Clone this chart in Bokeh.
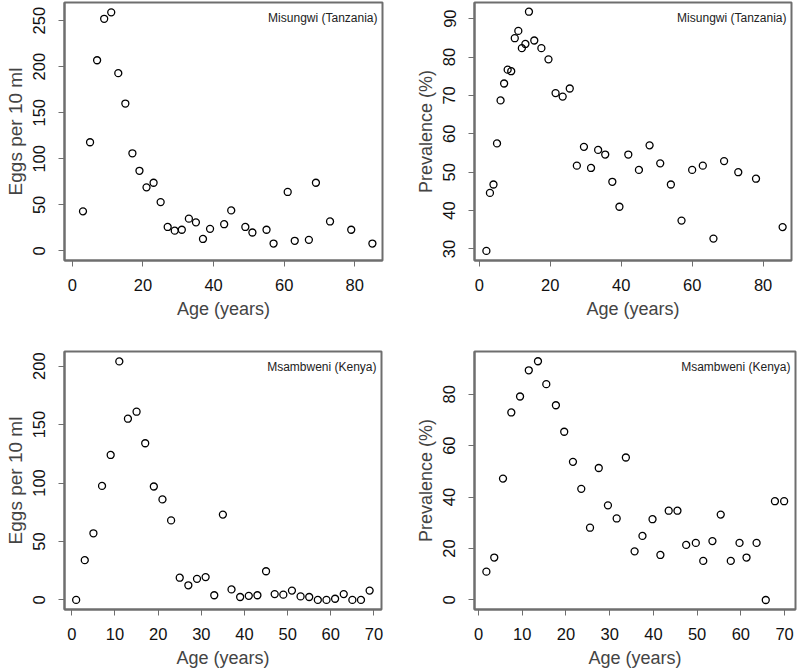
from bokeh.plotting import figure
from bokeh.layouts import column, row
from bokeh.models import Range1d, FixedTicker, Label
from bokeh.embed import file_html
from bokeh.resources import INLINE

# ---------------- data ----------------
# Misungwi (Tanzania): eggs per 10 ml by age
mis_egg_age = [3, 5, 7, 9, 11, 13, 15, 17, 19, 21, 23, 25, 27, 29, 31, 33, 35, 37, 39,
               43, 45, 49, 51, 55, 57, 61, 63, 67, 69, 73, 79, 85]
mis_egg = [43, 118, 207, 252, 259, 193, 160, 106, 87, 69, 74, 53, 26, 22, 23, 35, 31, 13, 24,
           29, 44, 26, 20, 23, 8, 64, 11, 12, 74, 32, 23, 8]

# Misungwi (Tanzania): prevalence by age
mis_prev_age = [2, 3, 4, 5, 6, 7, 8, 9, 10, 11, 12, 13, 14, 15.5, 17.5, 19.5, 21.5, 23.5, 25.5,
                27.5, 29.5, 31.5, 33.5, 35.5, 37.5, 39.5, 42, 45, 48, 51, 54, 57, 60, 63, 66,
                69, 73, 78, 85.5]
mis_prev = [29.5, 44.6, 46.8, 57.5, 68.7, 73.1, 76.7, 76.3, 84.9, 86.8, 82.3, 83.4, 91.8, 84.3,
            82.3, 79.4, 70.6, 69.7, 71.8, 51.7, 56.6, 51.1, 55.8, 54.6, 47.5, 41.0, 54.6, 50.6,
            57.0, 52.3, 46.8, 37.4, 50.6, 51.7, 32.7, 52.9, 50.0, 48.3, 35.7]

# Msambweni (Kenya): eggs per 10 ml by age
msa_egg_age = [1, 3, 5, 7, 9, 11, 13, 15, 17, 19, 21, 23, 25, 27, 29, 31, 33, 35, 37, 39, 41,
               43, 45, 47, 49, 51, 53, 55, 57, 59, 61, 63, 65, 67, 69]
msa_egg = [0, 34, 57, 97.5, 124, 204, 155, 161, 134, 97, 86, 68, 19, 12.5, 18, 19.5, 4, 73, 9,
           2.5, 3.5, 4, 24.5, 5, 4.5, 8, 3, 2.5, 0, 0, 1, 5, 0, 0, 8]

# Msambweni (Kenya): prevalence by age
msa_prev_age = [1.8, 3.6, 5.6, 7.5, 9.5, 11.5, 13.6, 15.5, 17.7, 19.6, 21.6, 23.5, 25.5, 27.5,
                29.6, 31.6, 33.7, 35.7, 37.5, 39.8, 41.6, 43.5, 45.5, 47.5, 49.7, 51.4, 53.5,
                55.4, 57.7, 59.7, 61.3, 63.6, 65.7, 67.8, 69.9]
msa_prev = [11.0, 16.5, 47.2, 72.9, 79.1, 89.3, 92.8, 83.9, 75.7, 65.4, 53.7, 43.2, 28.1, 51.3,
            36.8, 31.7, 55.4, 18.9, 24.9, 31.4, 17.5, 34.7, 34.7, 21.4, 22.2, 15.2, 22.9, 33.2,
            15.2, 22.2, 16.5, 22.2, 0.0, 38.4, 38.4]

# tick labels
mis_x_ticks = [0, 20, 40, 60, 80]
mis_egg_y_ticks = [0, 50, 100, 150, 200, 250]
mis_prev_y_ticks = [30, 40, 50, 60, 70, 80, 90]
msa_x_ticks = [0, 10, 20, 30, 40, 50, 60, 70]
msa_egg_y_ticks = [0, 50, 100, 150, 200]
msa_prev_y_ticks = [0, 20, 40, 60, 80]

x_title = "Age (years)"
egg_title = "Eggs per 10 ml"
prev_title = "Prevalence (%)"
site_mis = "Misungwi (Tanzania)"
site_msa = "Msambweni (Kenya)"

FONT = "Liberation Sans"
BOX = "#6e6e6e"


def panel(xs, ys, xr, yr, xt, yt, ylab, site, w, h, bl, br, bt, bb, ylab_size="18px"):
    p = figure(width=w, height=h, x_range=Range1d(*xr), y_range=Range1d(*yr),
               output_backend="svg", toolbar_location=None,
               min_border_left=bl, min_border_right=br, min_border_top=bt, min_border_bottom=bb)
    p.outline_line_color = BOX
    p.outline_line_width = 2
    p.xgrid.grid_line_color = None
    p.ygrid.grid_line_color = None

    p.scatter(xs, ys, marker="circle", size=7, fill_color=None, line_color="black", line_width=1.3)

    for ax, ticks in ((p.xaxis[0], xt), (p.yaxis[0], yt)):
        ax.ticker = FixedTicker(ticks=ticks)
        ax.axis_line_color = BOX
        ax.axis_line_width = 2
        ax.major_tick_line_color = BOX
        ax.major_tick_line_width = 1
        ax.major_tick_in = 0
        ax.major_tick_out = 6
        ax.minor_tick_line_color = None
        ax.major_label_text_font = FONT
        ax.major_label_text_font_size = "16.5px"
        ax.major_label_text_color = "#111111"
        ax.axis_label_text_font = FONT
        ax.axis_label_text_font_style = "normal"

    p.xaxis[0].axis_label = x_title
    p.xaxis[0].axis_label_text_font_size = "18px"
    p.xaxis[0].major_label_standoff = 12

    p.yaxis[0].axis_label = ylab
    p.yaxis[0].axis_label_text_font_size = ylab_size
    p.yaxis[0].major_label_orientation = "parallel"
    p.yaxis[0].major_label_standoff = 13

    p.add_layout(Label(x=xr[1], y=yr[1], x_offset=-5, y_offset=-15, text=site,
                       text_align="right", text_baseline="middle", text_font=FONT,
                       text_font_size="12px", text_color="#222222"))
    return p


p1 = panel(mis_egg_age, mis_egg, (-2.24, 87.86), (-10.4, 269.7), mis_x_ticks, mis_egg_y_ticks,
           egg_title, site_mis, 410, 338, 64, 28, 2, 76, "19px")
p2 = panel(mis_prev_age, mis_prev, (-1.35, 88.0), (27.0, 94.2), mis_x_ticks, mis_prev_y_ticks,
           prev_title, site_mis, 387, 338, 64, 6, 1, 78)
p3 = panel(msa_egg_age, msa_egg, (-1.7, 71.75), (-8.2, 212.5), msa_x_ticks, msa_egg_y_ticks,
           egg_title, site_msa, 410, 332, 64, 29, 13, 60, "19px")
p4 = panel(msa_prev_age, msa_prev, (-0.92, 72.5), (-3.7, 96.6), msa_x_ticks, msa_prev_y_ticks,
           prev_title, site_msa, 387, 332, 64, 2, 11, 61)

layout = column(row(p1, p2), row(p3, p4))
open("out.html", "w").write(file_html(layout, INLINE))
